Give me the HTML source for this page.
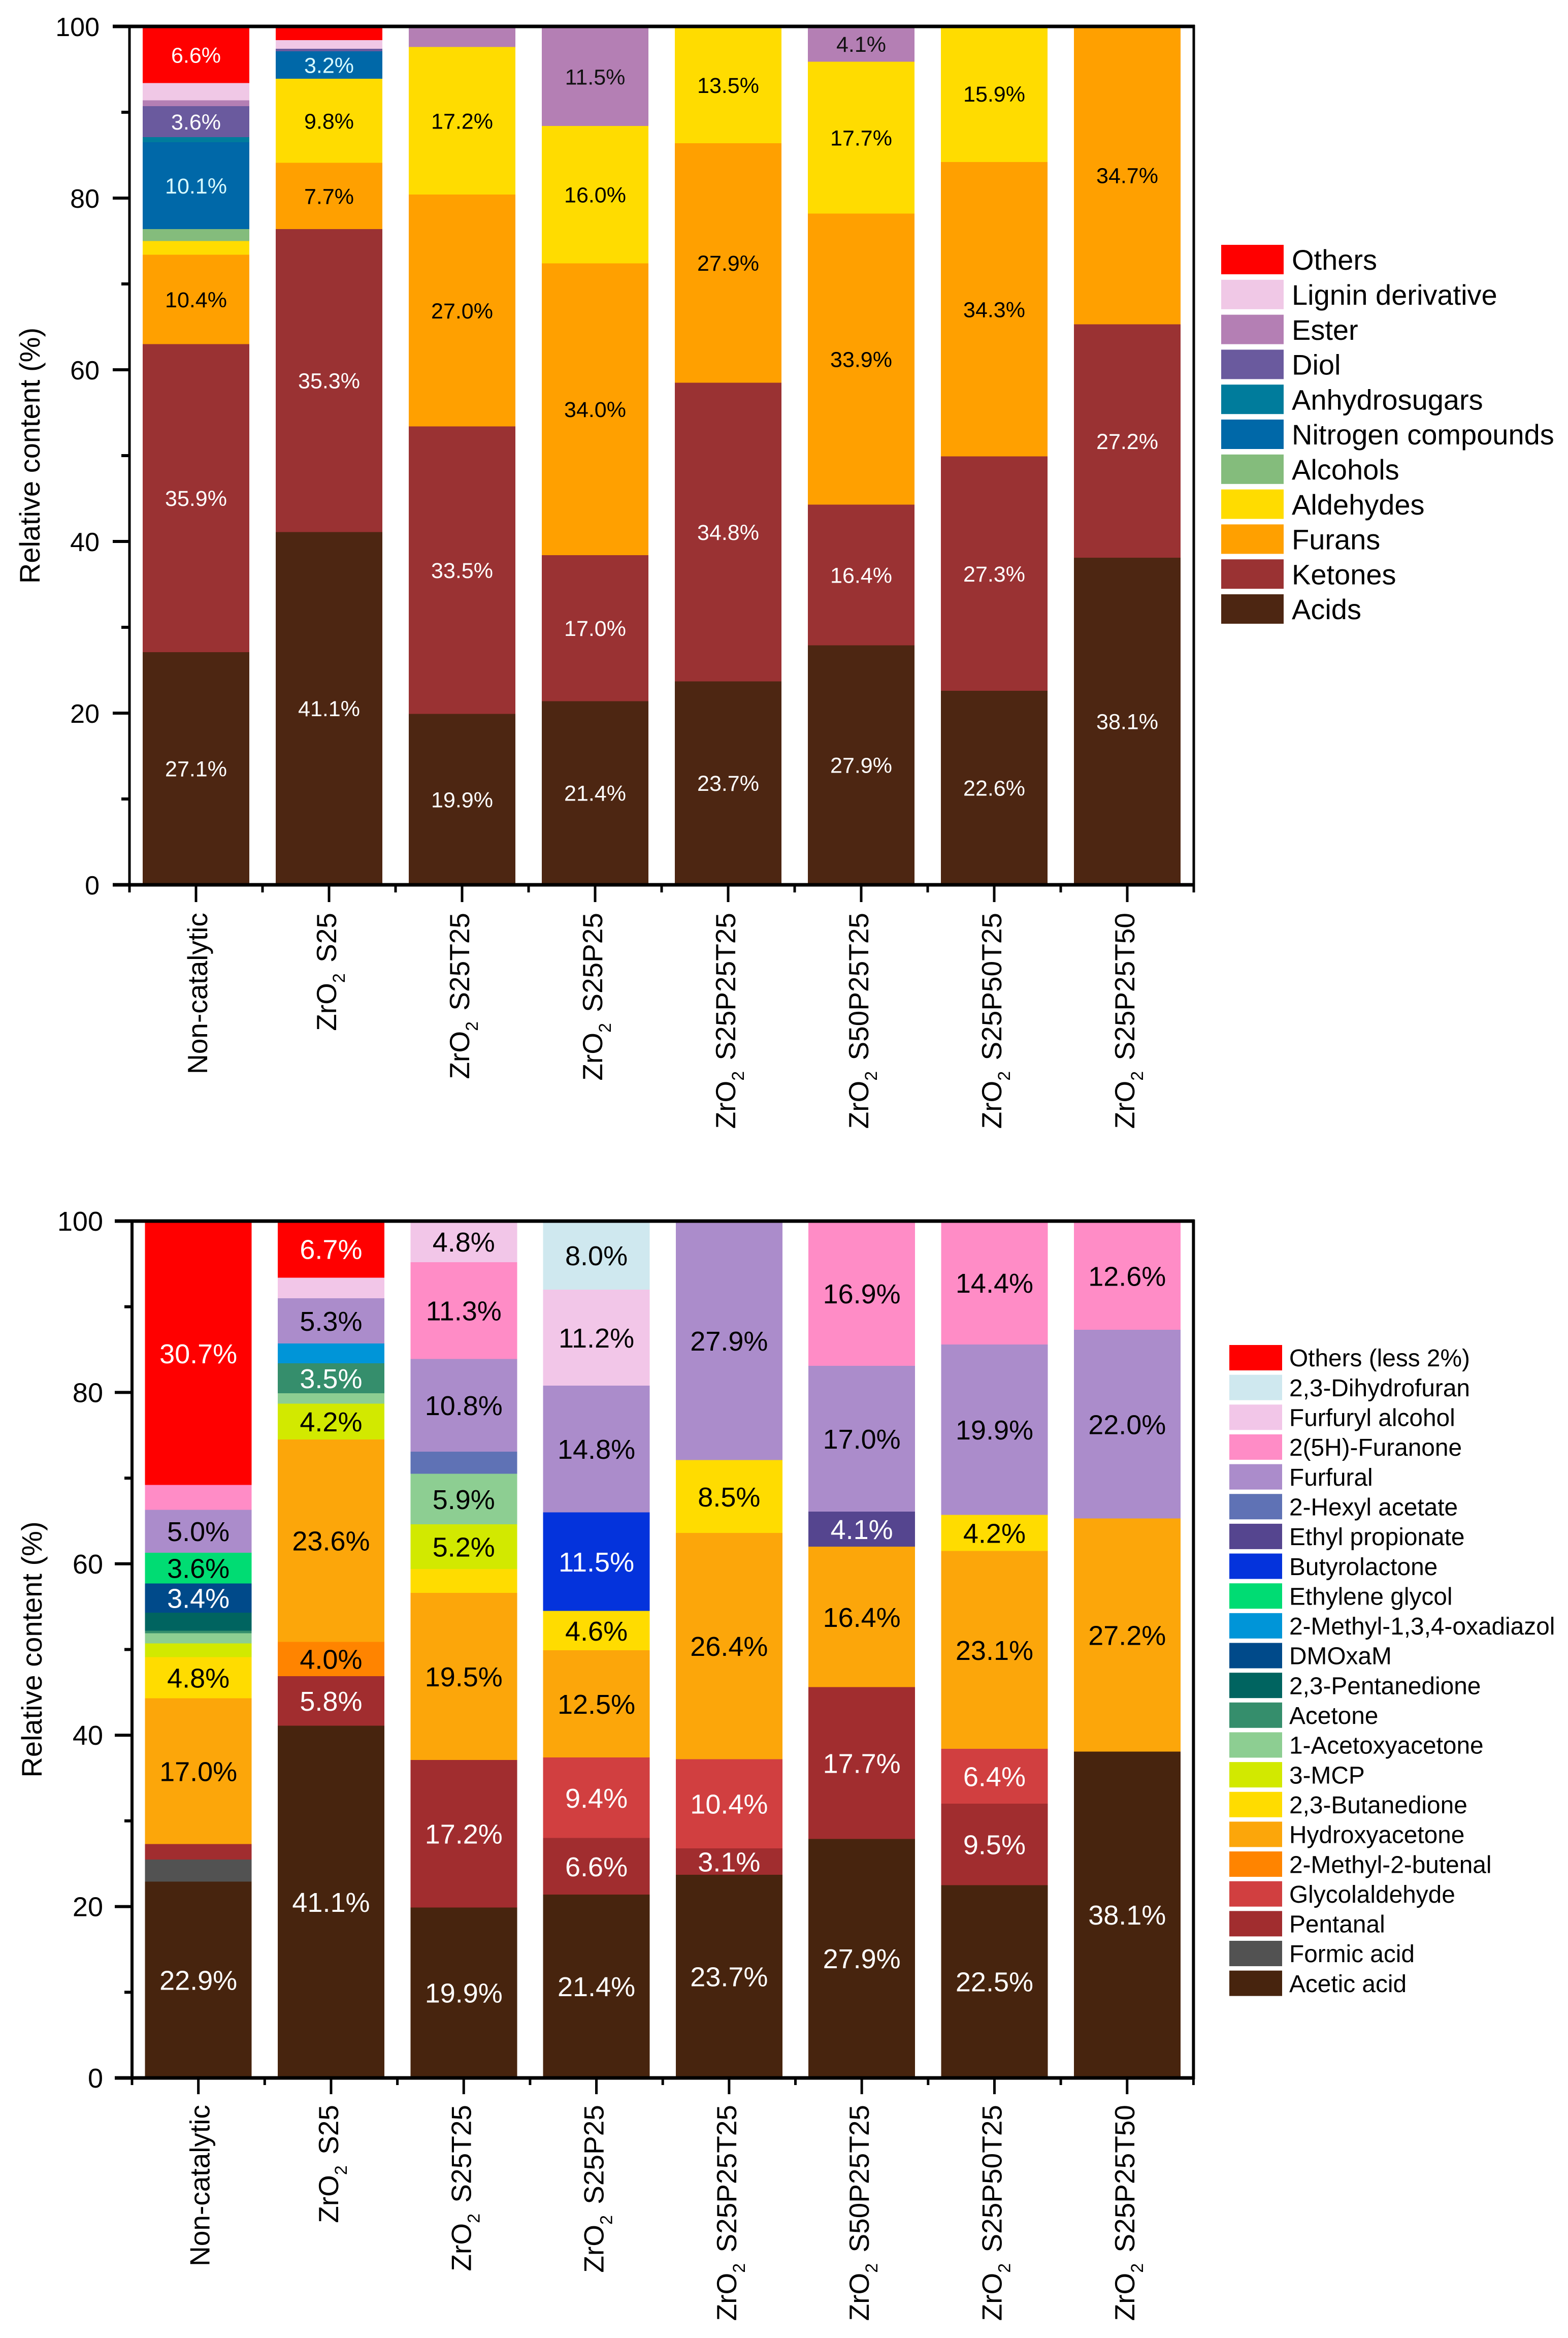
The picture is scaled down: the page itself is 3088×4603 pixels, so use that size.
<!DOCTYPE html>
<html lang="en">
<head>
<meta charset="utf-8">
<title>Relative content stacked bar charts</title>
<style>
html,body{margin:0;padding:0;background:#fff;}
svg{display:block;font-family:"Liberation Sans",Arial,sans-serif;}
</style>
</head>
<body>
<svg id="figure" xmlns="http://www.w3.org/2000/svg" width="3088" height="4603" viewBox="0 0 3088 4603">
  <rect x="0" y="0" width="3088" height="4603" fill="#ffffff"/>
  <g id="top-chart"></g>
  <g id="bottom-chart"></g>
</svg>
<script>
// ---- shared data ----
const categories = ["Non-catalytic", "ZrO2 S25", "ZrO2 S25T25", "ZrO2 S25P25", "ZrO2 S25P25T25", "ZrO2 S50P25T25", "ZrO2 S25P50T25", "ZrO2 S25P25T50"];
const yTickLabels = [0, 20, 40, 60, 80, 100];
const yMinorTicks = [10, 30, 50, 70, 90];
const labelThreshold = 3;

// ---- top chart data (bottom of stack first) ----
const acids = [27.1, 41.1, 19.9, 21.4, 23.7, 27.9, 22.6, 38.1];
const ketones = [35.9, 35.3, 33.5, 17.0, 34.8, 16.4, 27.3, 27.2];
const furans = [10.4, 7.7, 27.0, 34.0, 27.9, 33.9, 34.3, 34.7];
const aldehydes = [1.6, 9.8, 17.2, 16.0, 13.5, 17.7, 15.9, 0];
const alcohols = [1.4, 0, 0, 0, 0, 0, 0, 0];
const nitrogenCompounds = [10.1, 3.2, 0, 0, 0, 0, 0, 0];
const anhydrosugars = [0.6, 0, 0, 0, 0, 0, 0, 0];
const diol = [3.6, 0.3, 0, 0, 0, 0, 0, 0];
const ester = [0.7, 0, 2.4, 11.5, 0, 4.1, 0, 0];
const ligninDerivative = [2.0, 1.0, 0, 0, 0, 0, 0, 0];
const othersTop = [6.6, 1.6, 0, 0, 0, 0, 0, 0];

const topNames = ["Acids", "Ketones", "Furans", "Aldehydes", "Alcohols", "Nitrogen compounds", "Anhydrosugars", "Diol", "Ester", "Lignin derivative", "Others"];
const topValues = [acids, ketones, furans, aldehydes, alcohols, nitrogenCompounds, anhydrosugars, diol, ester, ligninDerivative, othersTop];
const topColors = ["#4d2612", "#9a3233", "#ffa000", "#ffdc00", "#84bc7c", "#0068a8", "#007c9c", "#6a5a9e", "#b47fb4", "#f0c8e6", "#ff0000"];
const topLabelColors = ["#fff", "#fff", "#000", "#000", "#000", "#d8fbff", "#fff", "#fff", "#111", "#000", "#fff"];

// ---- bottom chart data (bottom of stack first) ----
const aceticAcid = [22.9, 41.1, 19.9, 21.4, 23.7, 27.9, 22.5, 38.1];
const formicAcid = [2.6, 0, 0, 0, 0, 0, 0, 0];
const pentanal = [1.8, 5.8, 17.2, 6.6, 3.1, 17.7, 9.5, 0];
const glycolaldehyde = [0, 0, 0, 9.4, 10.4, 0, 6.4, 0];
const methylButenal = [0, 4.0, 0, 0, 0, 0, 0, 0];
const hydroxyacetone = [17.0, 23.6, 19.5, 12.5, 26.4, 16.4, 23.1, 27.2];
const butanedione = [4.8, 0, 2.8, 4.6, 8.5, 0, 4.2, 0];
const mcp = [1.6, 4.2, 5.2, 0, 0, 0, 0, 0];
const acetoxyacetone = [1.2, 1.2, 5.9, 0, 0, 0, 0, 0];
const acetone = [0.3, 3.5, 0, 0, 0, 0, 0, 0];
const pentanedione = [2.1, 0, 0, 0, 0, 0, 0, 0];
const dmoxam = [3.4, 0, 0, 0, 0, 0, 0, 0];
const oxadiazol = [0, 2.3, 0, 0, 0, 0, 0, 0];
const ethyleneGlycol = [3.6, 0, 0, 0, 0, 0, 0, 0];
const butyrolactone = [0, 0, 0, 11.5, 0, 0, 0, 0];
const ethylPropionate = [0, 0, 0, 0, 0, 4.1, 0, 0];
const hexylAcetate = [0, 0, 2.6, 0, 0, 0, 0, 0];
const furfural = [5.0, 5.3, 10.8, 14.8, 27.9, 17.0, 19.9, 22.0];
const furanone = [2.9, 0, 11.3, 0, 0, 16.9, 14.4, 12.6];
const furfurylAlcohol = [0, 2.4, 4.8, 11.2, 0, 0, 0, 0];
const dihydrofuran = [0, 0, 0, 8.0, 0, 0, 0, 0];
const othersBottom = [30.7, 6.7, 0, 0, 0, 0, 0, 0];

const bottomNames = ["Acetic acid", "Formic acid", "Pentanal", "Glycolaldehyde", "2-Methyl-2-butenal", "Hydroxyacetone", "2,3-Butanedione", "3-MCP", "1-Acetoxyacetone", "Acetone", "2,3-Pentanedione", "DMOxaM", "2-Methyl-1,3,4-oxadiazol", "Ethylene glycol", "Butyrolactone", "Ethyl propionate", "2-Hexyl acetate", "Furfural", "2(5H)-Furanone", "Furfuryl alcohol", "2,3-Dihydrofuran", "Others (less 2%)"];
const bottomValues = [aceticAcid, formicAcid, pentanal, glycolaldehyde, methylButenal, hydroxyacetone, butanedione, mcp, acetoxyacetone, acetone, pentanedione, dmoxam, oxadiazol, ethyleneGlycol, butyrolactone, ethylPropionate, hexylAcetate, furfural, furanone, furfurylAlcohol, dihydrofuran, othersBottom];
const bottomColors = ["#47240e", "#525252", "#a12d2f", "#d13f40", "#ff8400", "#fca60a", "#ffdc00", "#d2e900", "#8dce92", "#358e6c", "#006460", "#004a8a", "#0095d8", "#00dc73", "#0433dc", "#55458f", "#5f72b5", "#ab8ccb", "#ff8cc6", "#f2c6e8", "#cfe8ef", "#ff0000"];
const bottomLabelColors = ["#fff", "#fff", "#fff", "#fff", "#000", "#000", "#000", "#000", "#000", "#fff", "#fff", "#fff", "#000", "#000", "#fff", "#fff", "#fff", "#000", "#000", "#000", "#000", "#fff"];

// ---- drawing ----
const NS = "http://www.w3.org/2000/svg";

function line(parent, x1, y1, x2, y2, w) {
  const l = document.createElementNS(NS, "line");
  l.setAttribute("x1", x1);
  l.setAttribute("y1", y1);
  l.setAttribute("x2", x2);
  l.setAttribute("y2", y2);
  l.setAttribute("stroke", "#000");
  l.setAttribute("stroke-width", w);
  parent.appendChild(l);
  return l;
}

function slug(s) {
  return String(s).toLowerCase().replace(/[^a-z0-9]+/g, "-").replace(/^-|-$/g, "");
}

function drawChart(rootId, cfg, names, values, colors, labelColors) {
  const root = document.getElementById(rootId);
  const yScale = v => cfg.y0 - v * cfg.unit;
  const xScale = i => cfg.xStart + cfg.pitch * (i + 0.5);
  const xEnd = cfg.xStart + cfg.pitch * categories.length;

  // stacked bars
  categories.forEach((cat, c) => {
    let base = 0;
    values.forEach((series, s) => {
      const v = series[c];
      if (!v) return;
      const rect = document.createElementNS(NS, "rect");
      
      
      rect.setAttribute("x", xScale(c) - cfg.barWidth / 2);
      rect.setAttribute("y", yScale(base + v));
      rect.setAttribute("width", cfg.barWidth);
      rect.setAttribute("height", v * cfg.unit);
      rect.setAttribute("fill", colors[s]);
      rect.setAttribute("shape-rendering", "crispEdges");
      root.appendChild(rect);
      base += v;
    });
  });

  // printed value labels
  categories.forEach((cat, c) => {
    let base = 0;
    values.forEach((series, s) => {
      const v = series[c];
      if (!v) return;
      if (v >= labelThreshold) {
        const t = document.createElementNS(NS, "text");
        
        
        t.setAttribute("x", xScale(c));
        t.setAttribute("y", yScale(base + v / 2) + cfg.valueSize * 0.36);
        t.setAttribute("text-anchor", "middle");
        t.setAttribute("font-size", cfg.valueSize);
        t.setAttribute("fill", labelColors[s]);
        t.textContent = v.toFixed(1) + "%";
        root.appendChild(t);
      }
      base += v;
    });
  });

  // axes frame
  const frame = document.createElementNS(NS, "g");
  
  
  root.appendChild(frame);
  line(frame, cfg.xStart, yScale(100) - 3, cfg.xStart, yScale(0) + 3, cfg.spine);
  line(frame, xEnd, yScale(100) - 3, xEnd, yScale(0) + 3, cfg.spine);
  line(frame, cfg.tickMajorX, yScale(100), xEnd + 2, yScale(100), cfg.hline);
  line(frame, cfg.tickMajorX, yScale(0), xEnd + 2, yScale(0), cfg.hline);

  // y ticks and labels
  yTickLabels.forEach(v => {
    const tick = line(root, cfg.tickMajorX, yScale(v), cfg.xStart, yScale(v), 6);
    
    
    const t = document.createElementNS(NS, "text");
    
    
    t.setAttribute("x", cfg.yLabelX);
    t.setAttribute("y", yScale(v) + 19);
    t.setAttribute("text-anchor", "end");
    t.setAttribute("font-size", cfg.yLabelSize);
    t.textContent = v;
    root.appendChild(t);
  });
  yMinorTicks.forEach(v => {
    const tick = line(root, cfg.tickMinorX, yScale(v), cfg.xStart, yScale(v), 6);
    
    
  });

  // y axis title
  const title = document.createElementNS(NS, "text");
  
  
  title.setAttribute("transform", "translate(" + cfg.titleX + " " + yScale(50) + ") rotate(-90)");
  title.setAttribute("text-anchor", "middle");
  title.setAttribute("font-size", 56);
  title.textContent = "Relative content (%)";
  root.appendChild(title);

  // x ticks
  for (let i = 0; i <= categories.length; i++) {
    const tick = line(root, cfg.xStart + cfg.pitch * i, yScale(0), cfg.xStart + cfg.pitch * i, cfg.minorTickEnd, 5);
    
    
  }

  // x category labels
  categories.forEach((cat, c) => {
    const tick = line(root, xScale(c), yScale(0), xScale(c), cfg.majorTickEnd, 5);
    
    
    const hasSub = cat.indexOf("ZrO2") === 0;
    const t = document.createElementNS(NS, "text");
    
    
    t.setAttribute("transform", "translate(" + (xScale(c) + (hasSub ? 14 : 22)) + " " + cfg.xLabelTop + ") rotate(-90)");
    t.setAttribute("text-anchor", "end");
    t.setAttribute("font-size", 55);
    if (hasSub) {
      const a = document.createElementNS(NS, "tspan");
      a.textContent = "ZrO";
      const b = document.createElementNS(NS, "tspan");
      b.setAttribute("font-size", 34);
      b.setAttribute("dy", 17);
      b.textContent = "2";
      const d = document.createElementNS(NS, "tspan");
      d.setAttribute("dy", -17);
      d.setAttribute("dx", 6);
      d.textContent = cat.slice(4);
      t.appendChild(a);
      t.appendChild(b);
      t.appendChild(d);
    } else {
      t.textContent = cat;
    }
    root.appendChild(t);
  });

  // legend, top entry is the last stacked series
  for (let i = 0; i < names.length; i++) {
    const s = names.length - 1 - i;
    const ly = cfg.legendY + cfg.legendPitch * i;
    const sw = document.createElementNS(NS, "rect");
    
    
    sw.setAttribute("x", cfg.legendX);
    sw.setAttribute("y", ly);
    sw.setAttribute("width", cfg.swatchW);
    sw.setAttribute("height", cfg.swatchH);
    sw.setAttribute("fill", colors[s]);
    root.appendChild(sw);
    const t = document.createElementNS(NS, "text");
    
    
    t.setAttribute("x", cfg.legendTextX);
    t.setAttribute("y", ly + cfg.swatchH / 2 + cfg.legendSize * 0.36);
    t.setAttribute("font-size", cfg.legendSize);
    t.textContent = names[s];
    root.appendChild(t);
  }
}

drawChart("top-chart", {
  y0: 1742, unit: 16.9, xStart: 255, pitch: 262, barWidth: 210,
  spine: 5, hline: 7, tickMajorX: 222, tickMinorX: 239, yLabelX: 196, yLabelSize: 52,
  titleX: 78, valueSize: 43, minorTickEnd: 1757, majorTickEnd: 1776, xLabelTop: 1797,
  legendX: 2405, legendY: 482, legendPitch: 68.8, swatchW: 123, swatchH: 58,
  legendTextX: 2544, legendSize: 56
}, topNames, topValues, topColors, topLabelColors);

drawChart("bottom-chart", {
  y0: 4091, unit: 16.87, xStart: 260, pitch: 261.3, barWidth: 210,
  spine: 6, hline: 7, tickMajorX: 226, tickMinorX: 245, yLabelX: 203, yLabelSize: 54,
  titleX: 82, valueSize: 54, minorTickEnd: 4105, majorTickEnd: 4123, xLabelTop: 4144,
  legendX: 2421, legendY: 2648, legendPitch: 58.65, swatchW: 104, swatchH: 50,
  legendTextX: 2539, legendSize: 47.8
}, bottomNames, bottomValues, bottomColors, bottomLabelColors);
</script>
</body>
</html>
